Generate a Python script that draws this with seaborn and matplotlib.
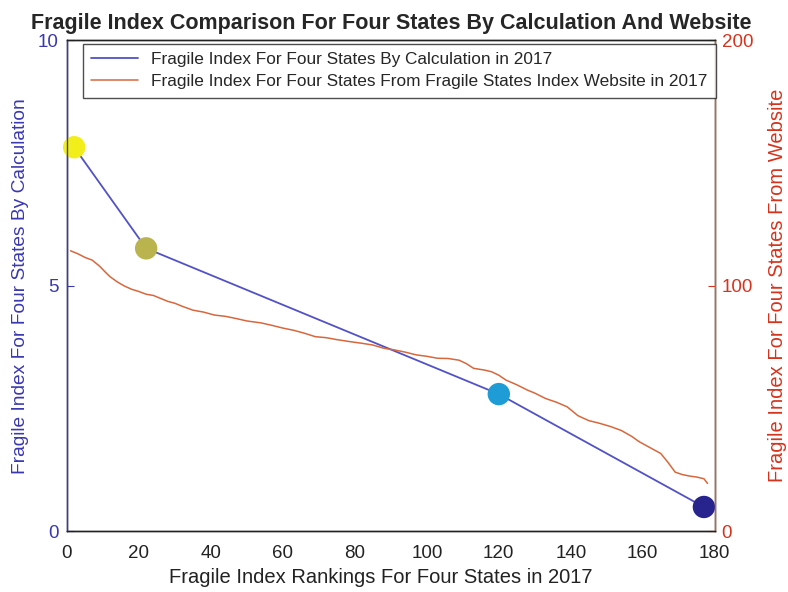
import matplotlib
matplotlib.use("Agg")
import matplotlib.pyplot as plt
import pandas as pd
import seaborn as sns

# ── Data ────────────────────────────────────────────────────────────────
calc_rank = [2, 22, 120, 177]
calc_index = [7.82, 5.76, 2.79, 0.49]
calc_colors = ["#F2EE1C", "#B9B44E", "#1D9CD6", "#28248E"]

web_rank = [1, 3, 5, 7, 9, 11, 12, 14, 16, 18, 20, 22, 24, 26, 28, 30, 32,
            35, 38, 41, 44, 47, 50, 54, 57, 60, 63, 66, 69, 72, 75, 79, 82,
            85, 88, 91, 94, 97, 100, 103, 106, 109, 111, 113, 116, 118, 120,
            122, 125, 128, 130, 133, 136, 139, 142, 145, 148, 151, 154, 157,
            159, 162, 165, 167, 169, 171, 173, 175, 177, 178]
web_index = [114.2, 113.0, 111.5, 110.4, 108.0, 105.0, 103.6, 101.5, 99.8,
             98.5, 97.6, 96.5, 96.0, 94.8, 93.6, 92.8, 91.6, 90.0, 89.2, 88.0,
             87.5, 86.6, 85.6, 84.8, 83.8, 82.7, 81.8, 80.6, 79.2, 78.8, 78.0,
             77.1, 76.5, 75.8, 74.5, 73.8, 72.9, 71.8, 71.2, 70.4, 70.3, 69.6,
             68.2, 66.3, 65.6, 64.9, 63.5, 61.5, 59.6, 57.4, 56.2, 54.0, 52.5,
             50.6, 47.0, 45.0, 43.9, 42.6, 41.0, 38.5, 36.4, 34.0, 31.6, 28.0,
             24.0, 23.0, 22.4, 22.0, 21.3, 19.4]

x_ticks = [0, 20, 40, 60, 80, 100, 120, 140, 160, 180]
left_ticks = [0, 5, 10]
right_ticks = [0, 100, 200]

BLUE_LINE = "#5252C6"
BLUE_TEXT = "#3A38B0"
RED_LINE = "#D6683E"
RED_TEXT = "#D5341E"

sns.set_style("white")
plt.rcParams["font.family"] = ["Liberation Sans", "DejaVu Sans"]

calc_df = pd.DataFrame({"rank": calc_rank, "index": calc_index})
web_df = pd.DataFrame({"rank": web_rank, "index": web_index})

fig = plt.figure(figsize=(7.88, 5.92), dpi=100)
ax1 = fig.add_axes([0.085, 0.103, 0.822, 0.829])
ax2 = ax1.twinx()

# website curve (right axis)
sns.lineplot(data=web_df, x="rank", y="index", ax=ax2, color=RED_LINE,
             linewidth=1.1, label="Fragile Index For Four States From Fragile States Index Website in 2017")

# calculated index (left axis)
sns.lineplot(data=calc_df, x="rank", y="index", ax=ax1, color=BLUE_LINE,
             linewidth=1.3, label="Fragile Index For Four States By Calculation in 2017")
sns.scatterplot(data=calc_df, x="rank", y="index", ax=ax1, hue="rank",
                palette=calc_colors, s=260, linewidth=0, legend=False,
                zorder=5, clip_on=False)

ax1.set_xlim(0, 180)
ax1.set_ylim(0, 10)
ax2.set_ylim(0, 200)
ax1.set_xticks(x_ticks)
ax1.set_yticks(left_ticks)
ax2.set_yticks(right_ticks)

ax1.tick_params(axis="x", direction="in", length=5, labelsize=13.5, colors="#222222", pad=10)
ax1.tick_params(axis="y", direction="in", length=5, labelsize=13.5, colors=BLUE_TEXT, pad=6)
ax2.tick_params(axis="y", direction="in", length=5, labelsize=13.5, colors=RED_TEXT, pad=5)

for ax in (ax1, ax2):
    for sp in ax.spines.values():
        sp.set_visible(True)
        sp.set_color("#222222")
        sp.set_linewidth(1.0)
ax2.spines["left"].set_color(BLUE_TEXT)
ax2.spines["right"].set_color("#B5694A")

ax1.set_xlabel("Fragile Index Rankings For Four States in 2017", fontsize=14.5, color="#222222", labelpad=5)
ax1.xaxis.set_label_coords(0.484, -0.075)
ax1.set_ylabel("Fragile Index For Four States By Calculation", fontsize=13.8, color=BLUE_TEXT, labelpad=6)
ax2.set_ylabel("Fragile Index For Four States From Website", fontsize=14.5, color=RED_TEXT, labelpad=11)
ax1.set_title("Fragile Index Comparison For Four States By Calculation And Website",
              fontsize=15.5, fontweight="bold", pad=8)

# merged legend on the top axes
h1, l1 = ax1.get_legend_handles_labels()
h2, l2 = ax2.get_legend_handles_labels()
ax1.get_legend().remove()
leg = ax2.legend(h1 + h2, l1 + l2, loc="upper left", bbox_to_anchor=(0.024, 0.993),
                 fontsize=12.4, handlelength=2.7, handletextpad=0.8, frameon=True,
                 fancybox=False, borderpad=0.5, labelspacing=0.4, borderaxespad=0)
leg.get_frame().set_edgecolor("#222222")
leg.get_frame().set_linewidth(1.0)

fig.savefig("out.png", dpi=100)
plt.close(fig)
